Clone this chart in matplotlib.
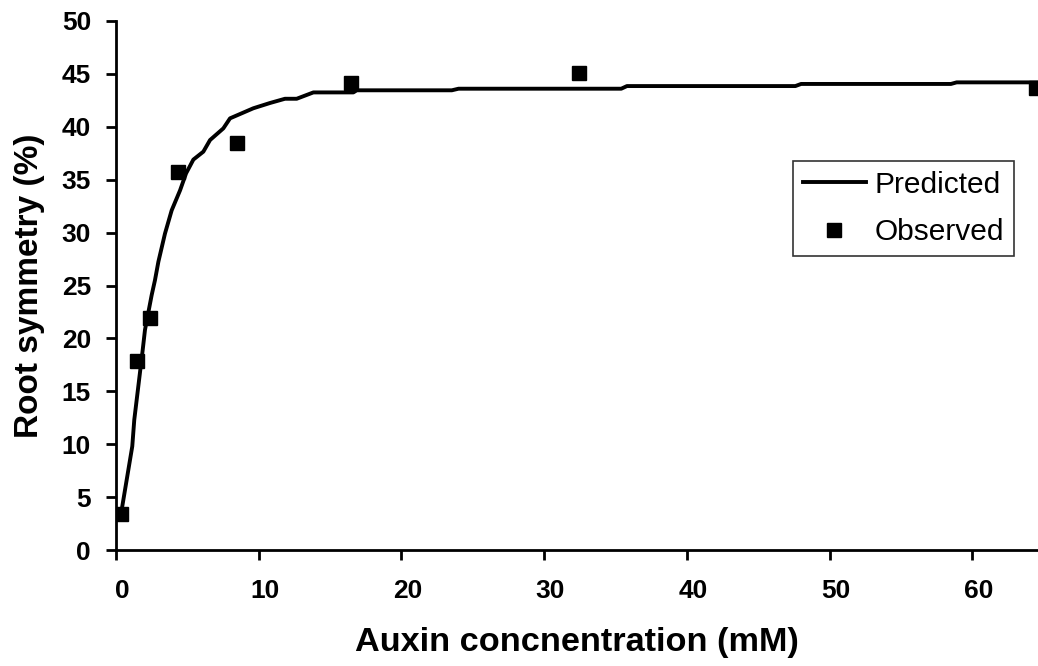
import matplotlib

matplotlib.use("Agg")
import matplotlib.pyplot as plt
from matplotlib.transforms import ScaledTranslation

# predicted curve
pred_x = [0.35, 1.14, 1.28, 1.87, 2.03, 2.50, 2.73, 2.97, 3.43, 3.90, 4.49, 4.91,
          5.42, 6.12, 6.59, 7.52, 7.99, 9.62, 10.79, 11.84, 12.66, 13.83, 16.63,
          16.87, 23.53, 24.0, 35.4, 35.8, 47.6, 48.0, 58.5, 58.9, 64.6]
pred_y = [3.4, 9.8, 12.3, 18.9, 20.8, 24.1, 25.5, 27.25, 29.9, 32.1, 34.0, 35.6,
          36.9, 37.65, 38.75, 39.85, 40.8, 41.75, 42.25, 42.65, 42.65, 43.25, 43.25,
          43.45, 43.45, 43.6, 43.6, 43.85, 43.85, 44.05, 44.05, 44.2, 44.2]

# observed points
obs_x = [0.35, 1.45, 2.38, 4.32, 8.46, 16.45, 32.45, 64.45]
obs_y = [3.4, 17.9, 21.9, 35.7, 38.5, 44.1, 45.1, 43.7]

x_ticks = [0, 10, 20, 30, 40, 50, 60]
y_ticks = [0, 5, 10, 15, 20, 25, 30, 35, 40, 45, 50]

plt.rcParams["font.family"] = ["Liberation Sans", "DejaVu Sans"]

fig = plt.figure(figsize=(10.38, 6.66), dpi=100)
ax = fig.add_axes([116 / 1038, 116 / 666, 1 - 116 / 1038, (550 - 21) / 666])

ax.plot(pred_x, pred_y, color="black", lw=2.8, label="Predicted", solid_joinstyle="round")
ax.plot(obs_x, obs_y, ls="none", marker="s", ms=9.5, color="black", label="Observed")

ax.set_xlim(0, 64.6)
ax.set_ylim(0, 50)
ax.set_xticks(x_ticks)
ax.set_yticks(y_ticks)

for side in ("top", "right"):
    ax.spines[side].set_visible(False)
for side in ("left", "bottom"):
    ax.spines[side].set_linewidth(2)

ax.tick_params(axis="x", direction="out", length=7, width=2, pad=14, labelsize=19)
ax.tick_params(axis="y", direction="out", length=7, width=2, pad=11, labelsize=19)
for lbl in ax.get_xticklabels() + ax.get_yticklabels():
    lbl.set_fontweight("bold")
# x tick labels sit a little right of their ticks in the original
shift = ScaledTranslation(0.06, 0, fig.dpi_scale_trans)
for lbl in ax.get_xticklabels():
    lbl.set_transform(lbl.get_transform() + shift)

ax.set_xlabel("Auxin concnentration (mM)", fontsize=24.7, fontweight="bold", labelpad=17)
ax.set_ylabel("Root symmetry (%)", fontsize=24, fontweight="bold", labelpad=12)

leg = ax.legend(loc="upper left", bbox_to_anchor=(793 / 1038, 1 - 161 / 666),
                bbox_transform=fig.transFigure, fontsize=21.5, frameon=True,
                fancybox=False, edgecolor="black", handlelength=2.1,
                handletextpad=0.3, labelspacing=0.65, borderpad=0.33,
                borderaxespad=0)
leg.get_frame().set_linewidth(1.2)

fig.savefig("out.png", dpi=100)
